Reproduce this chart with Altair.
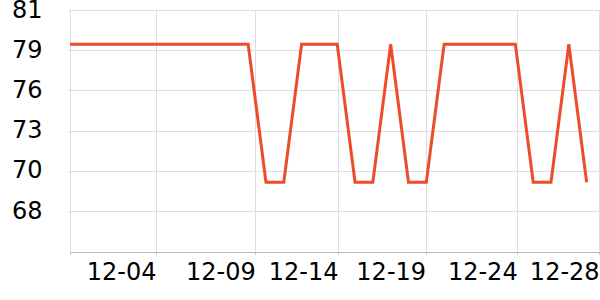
import altair as alt
import pandas as pd

# day offsets (0 = first day shown) and series values
days = list(range(30))
values = [78.95, 78.95, 78.95, 78.95, 78.95, 78.95, 78.95, 78.95, 78.95, 78.95,
          78.95, 69.68, 69.68, 78.95, 78.95, 78.95, 69.68, 69.68, 78.95, 69.68,
          69.68, 78.95, 78.95, 78.95, 78.95, 78.95, 69.68, 69.68, 78.95, 69.68]

# x tick positions (in day units) and their labels
x_ticks = [0, 4.83, 10.4, 15.04, 19.96, 25.1, 29.7]
x_labels = ["", "12-04", "12-09", "12-14", "12-19", "12-24", "12-28"]

# y tick positions and their labels
y_ticks = [81.25, 78.55, 75.85, 73.15, 70.45, 67.75]
y_labels = ["81", "79", "76", "73", "70", "68"]

df = pd.DataFrame({"day": days, "value": values})


def label_expr(ticks, labels):
    expr = "''"
    for t, l in reversed(list(zip(ticks, labels))):
        expr = f"abs(datum.value - {t}) < 0.001 ? '{l}' : ({expr})"
    return expr


chart = alt.Chart(df).mark_line(color="#ee4b2b", strokeWidth=3).encode(
    x=alt.X("day:Q",
            scale=alt.Scale(domain=[0, 29.75], nice=False, zero=False),
            axis=alt.Axis(values=x_ticks, labelExpr=label_expr(x_ticks, x_labels),
                          title=None, labelAlign="right", labelFontSize=24,
                          labelFont="DejaVu Sans", labelColor="#000",
                          labelPadding=6, tickSize=2, tickColor="#bbb",
                          domainColor="#bbb", gridColor="#ddd",
                          labelOverlap=False, labelFlush=False)),
    y=alt.Y("value:Q",
            scale=alt.Scale(domain=[65, 81.25], nice=False, zero=False),
            axis=alt.Axis(values=y_ticks, labelExpr=label_expr(y_ticks, y_labels),
                          title=None, labelFontSize=24, labelFont="DejaVu Sans",
                          labelColor="#000", labelPadding=26, tickSize=2,
                          tickColor="#ddd", domain=False, gridColor="#ddd",
                          labelOverlap=False, labelFlush=False)),
).properties(
    width=530, height=242,
    autosize=alt.AutoSizeParams(type="none"),
    padding={"left": 70, "top": 10, "right": 0, "bottom": 48},
).configure_view(stroke=None)

chart.save("out.html", embed_options={"renderer": "svg", "actions": False})
